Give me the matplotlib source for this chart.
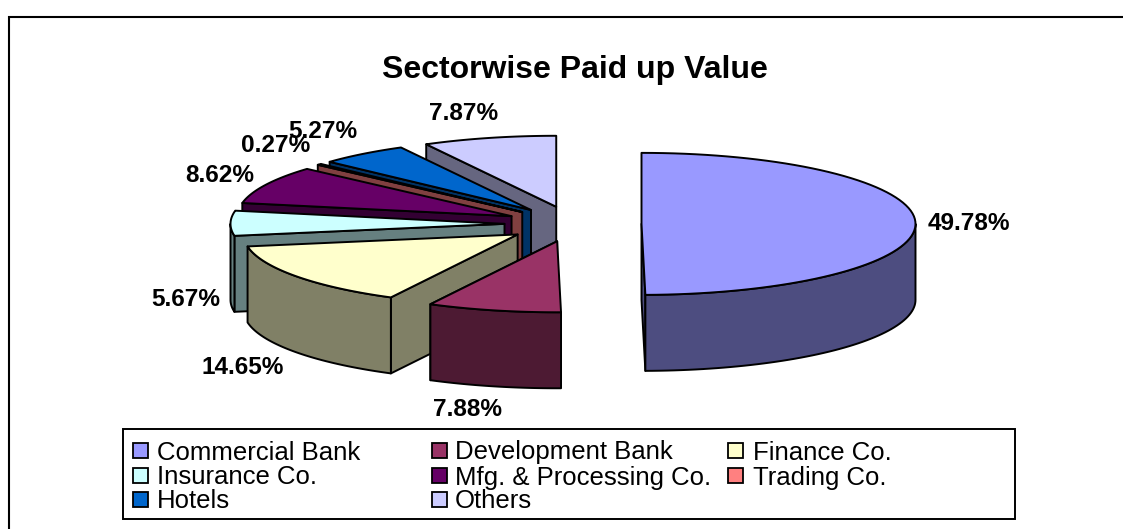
import numpy as np
import matplotlib
matplotlib.use("Agg")
import matplotlib.pyplot as plt
from matplotlib.patches import Polygon, Rectangle

plt.rcParams['font.family'] = ['Liberation Sans', 'DejaVu Sans']

# data
sectors = ["Commercial Bank", "Development Bank", "Finance Co.", "Insurance Co.",
           "Mfg. & Processing Co.", "Trading Co.", "Hotels", "Others"]
shares = [49.78, 7.88, 14.65, 5.67, 8.62, 0.27, 5.27, 7.87]
title = "Sectorwise Paid up Value"

# style
top_colors = ["#9999FF", "#993366", "#FFFFCC", "#CCFFFF", "#660066", "#FF8080", "#0066CC", "#CCCCFF"]
side_colors = ["#4D4D80", "#4D1A33", "#808066", "#668080", "#330033", "#804040", "#003366", "#666680"]
label_pos = [(969, 223), (467, 409), (243, 367), (186, 299), (220, 176), (276, 145), (323, 131), (464, 114)]

# pie layout in figure pixels
CX, CY = 573, 224
RX, RY = 274, 71
DEPTH = 76
EXPLODE = 0.25
LW = 1.4

# legend layout in figure pixels
LEG_BOX = (123, 429, 892, 90)
LEG_SWATCH_X = [133, 432, 728]
LEG_TEXT_X = [157, 455, 753]
LEG_ROW_Y = [450, 475, 499]
SWATCH = 15

fig = plt.figure(figsize=(11.23, 5.29), dpi=100, facecolor="white")
ax = fig.add_axes([0, 0, 1, 1])
ax.set_xlim(0, 1123)
ax.set_ylim(529, 0)
ax.axis("off")

frac = np.array(shares) / sum(shares)
ends = np.cumsum(frac) * 360
starts = ends - frac * 360


def pt(theta):
    t = np.radians(theta)
    return np.column_stack([RX * np.sin(t), -RY * np.cos(t)])


def add(poly, fc, z):
    ax.add_patch(Polygon(poly, closed=True, fc=fc, ec="black", lw=LW, joinstyle="round", zorder=z))


# far slices first, the front ones over them
order = [7, 6, 5, 4, 3, 2, 1, 0]
for z, i in enumerate(order):
    a, b = starts[i], ends[i]
    mid = np.radians((a + b) / 2)
    apex = np.array([CX + EXPLODE * RX * np.sin(mid), CY - EXPLODE * RY * np.cos(mid)])
    down = np.array([0, DEPTH])
    # radial wall facing the viewer
    wall = a if a >= 180 else b
    p = apex + pt(wall)[0]
    add([apex, p, p + down, apex + down], side_colors[i], z)
    # outer wall of the front half
    lo, hi = max(a, 90), min(b, 270)
    if hi > lo:
        arc = apex + pt(np.linspace(lo, hi, 60))
        add(np.vstack([arc, (arc + down)[::-1]]), side_colors[i], z)
    # top face
    arc = apex + pt(np.linspace(a, b, 80))
    add(np.vstack([apex, arc]), top_colors[i], z)

for s, (x, y) in zip(shares, label_pos):
    ax.text(x, y, f"{s:.2f}%", ha="center", va="center", fontsize=17.6, fontweight="bold", zorder=30)

ax.text(575, 70, title, ha="center", va="center", fontsize=23, fontweight="bold", zorder=30)

# chart frame, cut off by the picture on the right and at the bottom
ax.plot([8.5, 8.5, 1123], [529, 17, 17], color="black", lw=1.5, solid_joinstyle="miter", zorder=31)

# legend filled row by row, with uneven columns
x0, y0, w, h = LEG_BOX
ax.add_patch(Rectangle((x0, y0), w, h, fc="white", ec="black", lw=1.4, zorder=32))
for k, (name, color) in enumerate(zip(sectors, top_colors)):
    row, col = divmod(k, 3)
    y = LEG_ROW_Y[row]
    ax.add_patch(Rectangle((LEG_SWATCH_X[col], y - SWATCH / 2), SWATCH, SWATCH,
                           fc=color, ec="black", lw=1.3, zorder=33))
    ax.text(LEG_TEXT_X[col], y, name, ha="left", va="center_baseline", fontsize=18.5, zorder=33)

fig.savefig("out.png", dpi=100, facecolor="white")
